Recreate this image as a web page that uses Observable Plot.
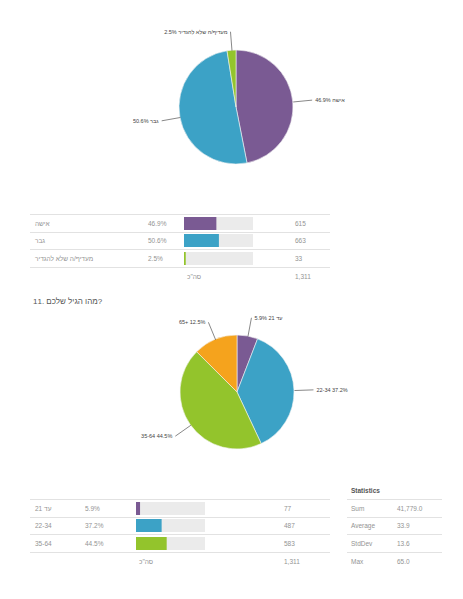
<!DOCTYPE html>
<html>
<head>
<meta charset="utf-8">
<script src="https://cdn.jsdelivr.net/npm/d3@7"></script>
<script src="https://cdn.jsdelivr.net/npm/@observablehq/plot@0.6"></script>
<style>
  body { margin: 0; background: #fff; font-family: "Liberation Sans", Arial, sans-serif; }
  #page { position: relative; width: 463px; height: 599px; overflow: hidden; background: #fff; }
  .abs { position: absolute; }
  table { border-collapse: collapse; table-layout: fixed; font-size: 6.5px; color: #939393; border-top: 1px solid #e2e2e2; }
  td { height: 16.6px; padding: 0; border-bottom: 1px solid #e2e2e2; vertical-align: middle; white-space: nowrap; }
  tr.total td, tr.last td { border-bottom: none; }
  td.lab { padding-left: 5px; }
  td svg { display: block; }
  #title { left: 33px; top: 297px; font-size: 8px; color: #555; }
  #stathead { left: 351px; top: 487px; font-size: 6.5px; font-weight: bold; color: #555; }
</style>
</head>
<body>
<div id="page">
  <div id="pie1" class="abs" style="left:0;top:0"></div>
  <div id="tab1" class="abs" style="left:30px;top:214px"></div>
  <div id="title" class="abs">11. מהו הגיל שלכם?</div>
  <div id="pie2" class="abs" style="left:0;top:300px"></div>
  <div id="tab2" class="abs" style="left:30px;top:499px"></div>
  <div id="stathead" class="abs">Statistics</div>
  <div id="stats" class="abs" style="left:347px;top:499px"></div>
</div>
<script>
// gender question
const genderLabels = ['אישה', 'גבר', 'מעדיף/ה שלא להגדיר']
const genderCounts = [615, 663, 33]
const genderPcts = ['46.9%', '50.6%', '2.5%']

// age question (the 65+ row of the table falls on the next page)
const ageLabels = ['עד 21', '22-34', '35-64', '65+']
const ageCounts = [77, 487, 583, 164]
const agePcts = ['5.9%', '37.2%', '44.5%', '12.5%']
const ageRowsShown = 3

const totalLabel = 'סה"כ'
const statNames = ['Sum', 'Average', 'StdDev', 'Max']
const statValues = ['41,779.0', '33.9', '13.6', '65.0']

const palette = ['#7a5a93', '#3ca2c6', '#93c42c', '#f5a31d']

function pieChart(labels, counts, pcts, cx, cy, r, height) {
  const rows = labels.map((label, i) => ({label, count: counts[i], pct: pcts[i], color: palette[i]}))
  const arcs = d3.pie().sort(null).value(d => d.count)(rows)
  const ext = 19
  const pts = arcs.map(a => {
    const m = (a.startAngle + a.endAngle) / 2
    const s = Math.sin(m), c = -Math.cos(m)
    return {
      label: `${a.data.label} ${a.data.pct}`,
      x1: cx + r * s, y1: cy + r * c,
      x2: cx + (r + ext) * s, y2: cy + (r + ext) * c,
      right: s >= 0
    }
  })
  return Plot.plot({
    width: 463,
    height: height,
    margin: 0,
    x: {domain: [0, 463], range: [0, 463], axis: null},
    y: {domain: [0, height], range: [0, height], axis: null},
    style: {fontFamily: 'Liberation Sans, Arial, sans-serif', background: 'transparent'},
    marks: [
      (index, {x, y}) => {
        const rad = x(cx + r) - x(cx)
        const g = d3.create('svg:g').attr('transform', `translate(${x(cx)},${y(cy)})`)
        g.selectAll('path').data(arcs).join('path')
          .attr('d', d3.arc().innerRadius(0).outerRadius(rad))
          .attr('fill', d => d.data.color)
          .attr('stroke', '#f4f4f4')
          .attr('stroke-width', 0.6)
        return g.node()
      },
      Plot.link(pts, {x1: 'x1', y1: 'y1', x2: 'x2', y2: 'y2', stroke: '#555', strokeWidth: 0.7}),
      Plot.text(pts.filter(d => d.right), {x: d => d.x2 + 3, y: 'y2', text: 'label', textAnchor: 'start', fontSize: 5.5, fill: '#444'}),
      Plot.text(pts.filter(d => !d.right), {x: d => d.x2 - 3, y: 'y2', text: 'label', textAnchor: 'end', fontSize: 5.5, fill: '#444'})
    ]
  })
}

function barCell(share, color, w) {
  return Plot.plot({
    width: w, height: 13, margin: 0,
    x: {domain: [0, 1], axis: null},
    marks: [
      Plot.barX([1], {x: d => d, fill: '#ebebeb'}),
      Plot.barX([share], {x: d => d, fill: color})
    ]
  })
}

function table(labels, counts, pcts, nShown, cols) {
  const total = d3.sum(counts)
  const t = d3.create('table').style('width', d3.sum(cols) + 'px')
  const cg = t.append('colgroup')
  cols.forEach(w => cg.append('col').style('width', w + 'px'))
  labels.slice(0, nShown).forEach((lab, i) => {
    const tr = t.append('tr')
    tr.append('td').attr('class', 'lab').text(lab)
    tr.append('td').text(pcts[i])
    tr.append('td').append(() => barCell(counts[i] / total, palette[i], 69))
    tr.append('td').text(d3.format(',')(counts[i]))
  })
  const tr = t.append('tr').attr('class', 'total')
  tr.append('td')
  tr.append('td')
  tr.append('td').append('span').style('padding-left', '3px').text(totalLabel)
  tr.append('td').text(d3.format(',')(total))
  return t.node()
}

d3.select('#pie1').append(() => pieChart(genderLabels, genderCounts, genderPcts, 236, 107, 57, 185))
d3.select('#tab1').append(() => table(genderLabels, genderCounts, genderPcts, genderLabels.length, [118, 36, 111, 35]))
d3.select('#pie2').append(() => pieChart(ageLabels, ageCounts, agePcts, 237, 92, 57, 170))
d3.select('#tab2').append(() => table(ageLabels, ageCounts, agePcts, ageRowsShown, [55, 51, 148, 46]))

const st = d3.create('table').style('width', '95px')
const scg = st.append('colgroup')
scg.append('col').style('width', '50px')
scg.append('col').style('width', '45px')
statNames.forEach((n, i) => {
  const tr = st.append('tr').attr('class', i === statNames.length - 1 ? 'last' : null)
  tr.append('td').style('padding-left', '4px').text(n)
  tr.append('td').text(statValues[i])
})
d3.select('#stats').append(() => st.node())
</script>
</body>
</html>
